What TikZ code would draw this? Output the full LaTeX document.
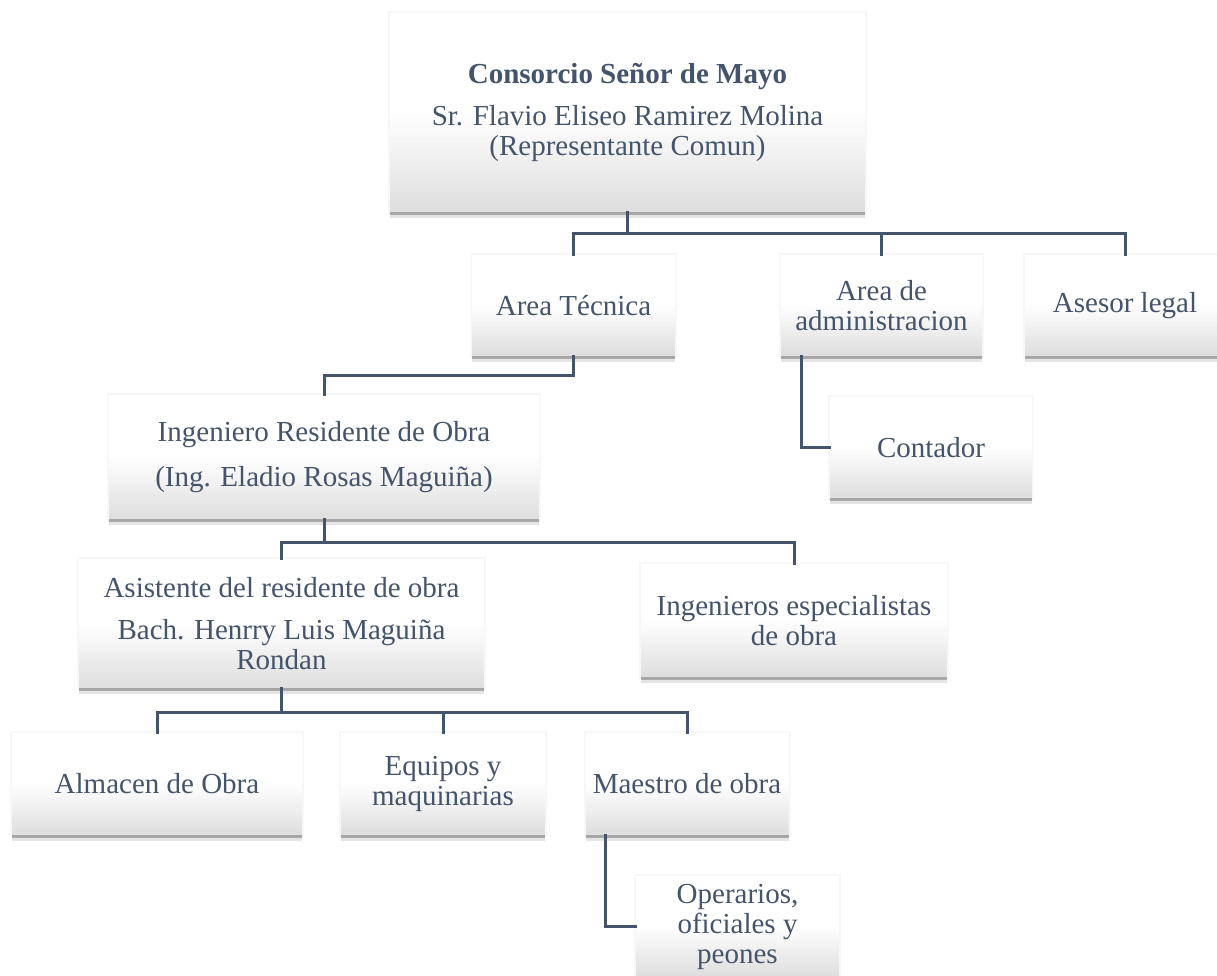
\documentclass[tikz,border=0pt]{standalone}
\usepackage{fontspec}
\setmainfont{Liberation Serif}
\usetikzlibrary{shadows,calc}
\definecolor{slate}{RGB}{68,84,106}
\newcommand{\boxgrad}{%
  \foreach \i in {0,...,19}{%
    \pgfmathsetmacro\pct{13*(1-(\i+0.5)/20)}%
    \fill[black!\pct]
      ($(path picture bounding box.south west)!{0.5*\i/20}!(path picture bounding box.north west)$)
      rectangle
      ($(path picture bounding box.south east)!{0.5*(\i+1.4)/20}!(path picture bounding box.north east)$);
  }}
\tikzset{
  box/.style={rectangle, draw=none, fill=white, align=center, text=slate,
    font=\fontsize{29pt}{30pt}\selectfont, inner sep=0pt,
    path picture={\boxgrad},
    preaction={draw=black, line width=4pt, opacity=.03},
    drop shadow={shadow xshift=0pt, shadow yshift=-6pt, opacity=.10, fill=black},
    drop shadow={shadow xshift=0pt, shadow yshift=-3pt, opacity=.25, fill=black}},
  conn/.style={draw=slate, line width=3pt, line join=miter, line cap=rect}
}
\begin{document}
\begin{tikzpicture}[x=1pt, y=1pt]
\clip (0,0) rectangle (1217,-976);
\fill[white] (0,0) rectangle (1217,-976);
% nodes
\node[box, minimum width=475pt, minimum height=199pt] (top) at (627.5,-112.5)
  {\textbf{Consorcio Señor de Mayo}\\[12pt]Sr. Flavio Eliseo Ramirez Molina\\(Representante Comun)};
\node[box, minimum width=203pt, minimum height=101pt] (tec) at (573.5,-305.5) {Area Técnica};
\node[box, minimum width=201pt, minimum height=101pt] (adm) at (881.5,-305.5) {Area de\\administracion};
\node[box, minimum width=201pt, minimum height=101pt] (ase) at (1125,-305.5) {Asesor legal};
\node[box, minimum width=202pt, minimum height=101pt] (cont) at (931,-447.5) {Contador};
\node[box, minimum width=430pt, minimum height=124pt] (ing) at (324,-457)
  {Ingeniero Residente de Obra\\[15pt](Ing. Eladio Rosas Maguiña)};
\node[box, minimum width=405pt, minimum height=129pt] (asis) at (281.5,-623.5)
  {Asistente del residente de obra\\[12pt]Bach. Henrry Luis Maguiña\\Rondan};
\node[box, minimum width=306pt, minimum height=113pt] (esp) at (794,-620.5)
  {Ingenieros especialistas\\de obra};
\node[box, minimum width=290pt, minimum height=102pt] (alm) at (157,-784) {Almacen de Obra};
\node[box, minimum width=204pt, minimum height=102pt] (equ) at (443,-784) {Equipos y\\maquinarias};
\node[box, minimum width=203pt, minimum height=102pt] (mae) at (687,-784) {Maestro de obra};
\node[box, minimum width=203pt, minimum height=101pt] (ope) at (737.5,-926.5)
  {Operarios,\\oficiales y\\peones};
% connector helper coordinates
\coordinate (b1) at (0,-234);
\coordinate (b2) at (0,-375);
\coordinate (b3) at (0,-542);
\coordinate (b4) at (0,-712);
\coordinate (a1) at (801,0);
\coordinate (m1) at (605,0);
% connectors
\draw[conn] (top.south) -- (top.south |- b1);
\draw[conn] (tec.north) -- (tec.north |- b1) -- (ase.north |- b1) -- (ase.north);
\draw[conn] (adm.north) -- (adm.north |- b1);
\draw[conn] (tec.south) -- (tec.south |- b2) -- (ing.north |- b2) -- (ing.north);
\draw[conn] (adm.south -| a1) |- (cont.west);
\draw[conn] (ing.south) -- (ing.south |- b3);
\draw[conn] (asis.north) -- (asis.north |- b3) -- (esp.north |- b3) -- (esp.north);
\draw[conn] (asis.south) -- (asis.south |- b4);
\draw[conn] (alm.north) -- (alm.north |- b4) -- (mae.north |- b4) -- (mae.north);
\draw[conn] (equ.north) -- (equ.north |- b4);
\draw[conn] (mae.south -| m1) |- (ope.west);
\end{tikzpicture}
\end{document}
